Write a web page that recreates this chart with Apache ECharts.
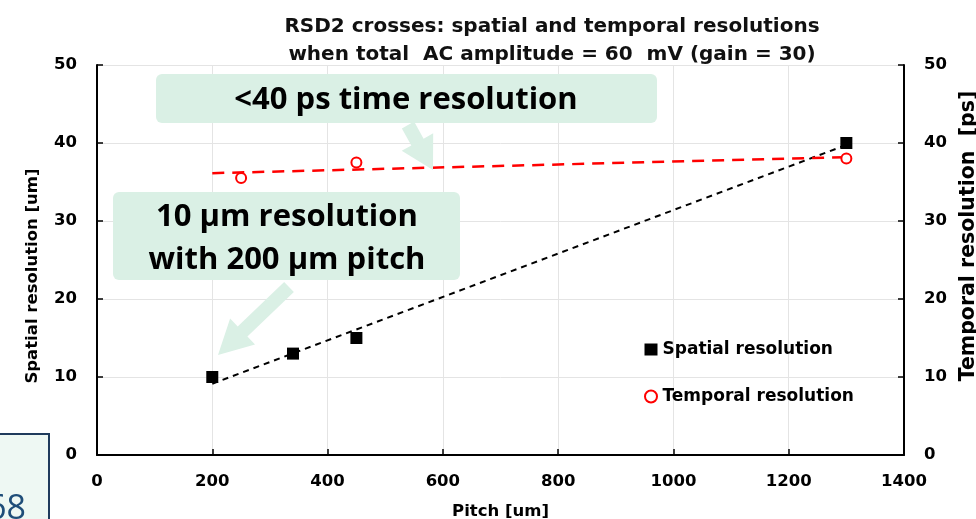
<!DOCTYPE html>
<html>
<head>
<meta charset="utf-8">
<script src="https://cdn.jsdelivr.net/npm/echarts@6/dist/echarts.min.js"></script>
<style>
  html, body { margin: 0; padding: 0; background: #ffffff; }
  #chart { width: 976px; height: 519px; }
</style>
</head>
<body>
<div id="chart"></div>
<script>
// Pitch values (um) and the measured resolutions
const spatialPitch = [200, 340, 450, 1300];
const spatialRes   = [10, 13, 15, 40];          // um
const temporalPitch = [250, 450, 1300];
const temporalRes   = [35.5, 37.5, 38];         // ps
const trendRange    = [200, 1300];              // pitch span of the linear fits

const xTicks = [0, 200, 400, 600, 800, 1000, 1200, 1400];
const yTicks = [0, 10, 20, 30, 40, 50];

const titleLines = [
  'RSD2 crosses: spatial and temporal resolutions',
  'when total  AC amplitude = 60  mV (gain = 30)'
];

// least-squares straight line through the points
function linearFit(xs, ys) {
  const n = xs.length;
  const mx = xs.reduce((a, b) => a + b, 0) / n;
  const my = ys.reduce((a, b) => a + b, 0) / n;
  let sxy = 0, sxx = 0;
  for (let i = 0; i < n; i++) {
    sxy += (xs[i] - mx) * (ys[i] - my);
    sxx += (xs[i] - mx) * (xs[i] - mx);
  }
  const k = sxy / sxx;
  const b = my - k * mx;
  return trendRange.map(x => [x, k * x + b]);
}

// block arrow polygon from (x1,y1) to tip (x2,y2)
function arrowPoints(x1, y1, x2, y2, shaftHalf, headHalf, headLen) {
  const dx = x2 - x1, dy = y2 - y1;
  const L = Math.hypot(dx, dy);
  const ux = dx / L, uy = dy / L;
  const px = -uy, py = ux;
  const bx = x2 - ux * headLen, by = y2 - uy * headLen;
  return [
    [x1 + px * shaftHalf, y1 + py * shaftHalf],
    [bx + px * shaftHalf, by + py * shaftHalf],
    [bx + px * headHalf, by + py * headHalf],
    [x2, y2],
    [bx - px * headHalf, by - py * headHalf],
    [bx - px * shaftHalf, by - py * shaftHalf],
    [x1 - px * shaftHalf, y1 - py * shaftHalf]
  ];
}

const FONT = '"DejaVu Sans", sans-serif';
const NOTE_FONT = '"Open Sans", "Noto Sans", sans-serif';
const MINT = '#daf0e5';

const chart = echarts.init(document.getElementById('chart'), null, { renderer: 'canvas' });

const tickLabel = {
  color: '#000', fontFamily: FONT, fontWeight: 'bold', fontSize: 16.5,
  formatter: v => String(v)
};

const axisCommon = {
  type: 'value',
  min: 0,
  axisLine: { show: true, lineStyle: { color: '#000', width: 2 } },
  axisTick: { show: true, inside: true, length: 6, lineStyle: { color: '#000', width: 1.5 } }
};

const option = {
  backgroundColor: '#ffffff',
  animation: false,
  title: {
    text: titleLines.join('\n'),
    left: 547,
    textAlign: 'center',
    top: 8,
    textStyle: { fontFamily: FONT, fontWeight: 'bold', fontSize: 20, lineHeight: 28, color: '#111' }
  },
  grid: { left: 97, right: 72, top: 65, bottom: 64, containLabel: false, outerBoundsMode: 'none' },
  legend: {
    data: ['Spatial resolution', 'Temporal resolution'],
    orient: 'vertical',
    left: 639,
    top: 336,
    itemWidth: 13,
    itemHeight: 12,
    itemGap: 30,
    textStyle: { fontFamily: FONT, fontWeight: 'bold', fontSize: 17, color: '#000' }
  },
  xAxis: Object.assign({}, axisCommon, {
    max: xTicks[xTicks.length - 1],
    interval: 200,
    name: 'Pitch [um]',
    nameLocation: 'middle',
    nameGap: 48,
    nameTextStyle: { fontFamily: FONT, fontWeight: 'bold', fontSize: 16.5, color: '#000' },
    axisLabel: Object.assign({}, tickLabel, { margin: 18 }),
    splitLine: { show: true, lineStyle: { color: '#e4e4e4', width: 1 } }
  }),
  yAxis: [
    Object.assign({}, axisCommon, {
      position: 'left',
      max: yTicks[yTicks.length - 1],
      interval: 10,
      name: 'Spatial resolution [um]',
      nameLocation: 'middle',
      nameRotate: 90,
      nameGap: 56,
      nameTextStyle: { fontFamily: FONT, fontWeight: 'bold', fontSize: 16.5, color: '#000', padding: [0, 32, 0, 0] },
      axisLabel: Object.assign({}, tickLabel, { margin: 20 }),
      splitLine: { show: true, lineStyle: { color: '#e4e4e4', width: 1 } }
    }),
    Object.assign({}, axisCommon, {
      position: 'right',
      max: yTicks[yTicks.length - 1],
      interval: 10,
      name: 'Temporal resolution  [ps]',
      nameLocation: 'middle',
      nameRotate: 90,
      nameGap: 49,
      nameTextStyle: { fontFamily: FONT, fontWeight: 'bold', fontSize: 20.5, color: '#000', padding: [0, 0, 0, 48] },
      axisLabel: Object.assign({}, tickLabel, { margin: 20 }),
      splitLine: { show: false }
    })
  ],
  series: [
    {
      name: 'Spatial fit',
      type: 'line',
      data: linearFit(spatialPitch, spatialRes),
      showSymbol: false,
      silent: true,
      lineStyle: { color: '#000', width: 2, type: [6, 5] },
      z: 2
    },
    {
      name: 'Temporal fit',
      type: 'line',
      data: linearFit(temporalPitch, temporalRes),
      showSymbol: false,
      silent: true,
      lineStyle: { color: '#ff0000', width: 2.5, type: [12, 8] },
      z: 2
    },
    {
      name: 'Spatial resolution',
      type: 'scatter',
      symbol: 'rect',
      symbolSize: 12,
      data: spatialPitch.map((x, i) => [x, spatialRes[i]]),
      itemStyle: { color: '#000', opacity: 1 },
      z: 3
    },
    {
      name: 'Temporal resolution',
      type: 'scatter',
      symbol: 'circle',
      symbolSize: 10,
      data: temporalPitch.map((x, i) => [x, temporalRes[i]]),
      itemStyle: { color: '#ffffff', borderColor: '#ff0000', borderWidth: 2, opacity: 1 },
      z: 3
    }
  ],
  graphic: [
    // callout: timing
    {
      type: 'rect', z: 100,
      shape: { x: 156, y: 74, width: 501, height: 49, r: 6 },
      style: { fill: MINT }
    },
    {
      type: 'text', z: 101,
      style: {
        text: '<40 ps time resolution', x: 406, y: 100,
        align: 'center', verticalAlign: 'middle',
        font: 'bold 31px ' + NOTE_FONT, fill: '#000'
      }
    },
    {
      type: 'polygon', z: 100,
      shape: { points: arrowPoints(408, 125, 433, 170, 7, 18, 32) },
      style: { fill: MINT }
    },
    // callout: spatial
    {
      type: 'rect', z: 100,
      shape: { x: 113, y: 192, width: 347, height: 88, r: 6 },
      style: { fill: MINT }
    },
    {
      type: 'text', z: 101,
      style: {
        text: '10 \u03BCm resolution', x: 287, y: 217,
        align: 'center', verticalAlign: 'middle',
        font: 'bold 31px ' + NOTE_FONT, fill: '#000'
      }
    },
    {
      type: 'text', z: 101,
      style: {
        text: 'with 200 \u03BCm pitch', x: 287, y: 260,
        align: 'center', verticalAlign: 'middle',
        font: 'bold 31px ' + NOTE_FONT, fill: '#000'
      }
    },
    {
      type: 'polygon', z: 100,
      shape: { points: arrowPoints(289, 287, 218, 355, 7, 18, 34) },
      style: { fill: MINT }
    },
    // side panel edge at lower left
    {
      type: 'rect', z: 100,
      shape: { x: -10, y: 434, width: 59, height: 100 },
      style: { fill: '#eef8f3', stroke: '#1f3b5c', lineWidth: 2 }
    },
    {
      type: 'text', z: 101,
      style: {
        text: '68', x: 26, y: 509,
        align: 'right', verticalAlign: 'middle',
        font: '34px ' + NOTE_FONT, fill: '#1f4e79'
      }
    }
  ]
};

chart.setOption(option);
</script>
</body>
</html>
